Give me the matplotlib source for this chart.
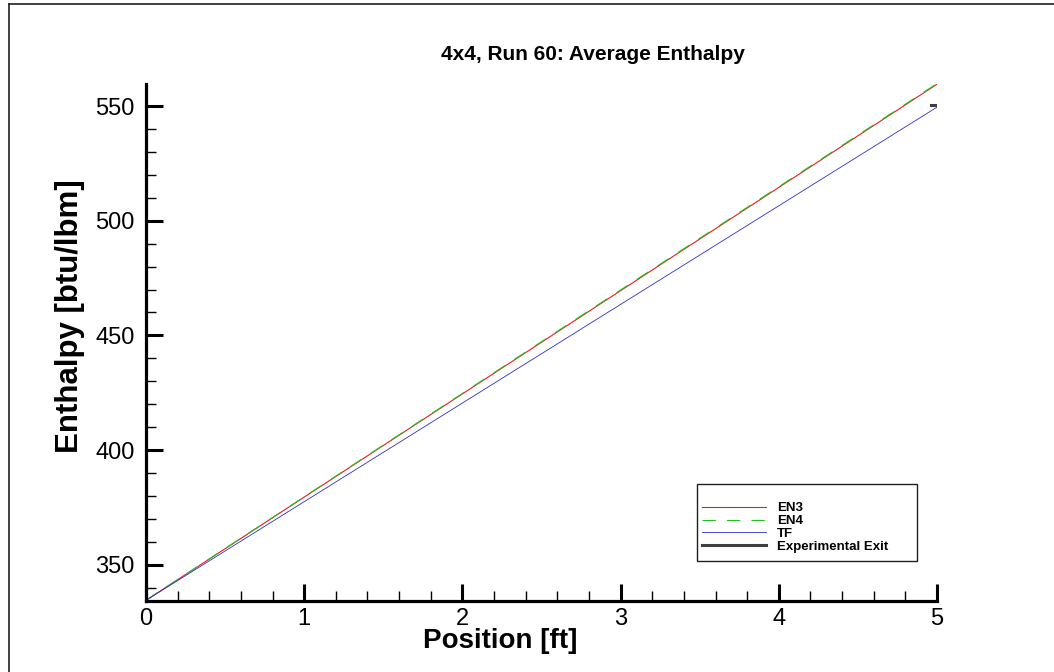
import matplotlib
matplotlib.use("Agg")
import matplotlib.pyplot as plt
from matplotlib.lines import Line2D
from matplotlib.patches import Rectangle
from matplotlib.ticker import MultipleLocator

# data
pos = [0, 1, 2, 3, 4, 5]
en3 = [334.5, 379.5, 424.5, 469.5, 514.5, 559.5]
en4 = [334.5, 379.6, 424.7, 469.8, 514.8, 559.8]
tf = [334.5, 377.5, 420.5, 463.5, 506.5, 549.5]
exp_x = [4.96, 5.0]
exp_y = [550.5, 550.5]

W, H = 1054, 672
fig = plt.figure(figsize=(W / 100, H / 100), dpi=100)
plt.rcParams['font.family'] = ['Liberation Sans', 'DejaVu Sans']

ax = fig.add_axes([146 / W, 1 - 601 / H, (937 - 146) / W, (601 - 84) / H])

ax.plot(pos, en3, color='#e02020', lw=0.8, label='EN3')
ax.plot(pos, en4, color='#20c020', lw=0.8, dashes=(12, 10), label='EN4')
ax.plot(pos, tf, color='#3030c0', lw=0.6, label='TF')
ax.plot(exp_x, exp_y, color='#404040', lw=2.2, label='Experimental Exit')

ax.set_xlim(0, 5)
ax.set_ylim(334.2, 559.6)
ax.xaxis.set_major_locator(MultipleLocator(1))
ax.xaxis.set_minor_locator(MultipleLocator(0.2))
ax.yaxis.set_major_locator(MultipleLocator(50))
ax.yaxis.set_minor_locator(MultipleLocator(10))

for s in ['top', 'right']:
    ax.spines[s].set_visible(False)
for s in ['left', 'bottom']:
    ax.spines[s].set_linewidth(2.3)
ax.tick_params(which='major', direction='in', length=12.5, width=2.2, labelsize=17)
ax.tick_params(which='minor', direction='in', length=7.5, width=1.0)
ax.tick_params(axis='x', pad=5)
ax.tick_params(axis='y', pad=8)

fig.text(593 / W, 1 - 55 / H, '4x4, Run 60: Average Enthalpy', ha='center', va='center',
         fontsize=15, fontweight='bold')
fig.text(500 / W, 1 - 641 / H, 'Position [ft]', ha='center', va='center',
         fontsize=20, fontweight='bold')
fig.text(70 / W, 1 - 316 / H, 'Enthalpy [btu/lbm]', ha='center', va='center', rotation=90,
         fontsize=22.5, fontweight='bold')

# legend box drawn by hand, entries placed inside it
ax.add_patch(Rectangle((697 / W, 1 - 561 / H), (917 - 697) / W, (561 - 484) / H,
                       transform=fig.transFigure, facecolor='white', edgecolor='#202020',
                       lw=1.0, zorder=4, clip_on=False))
leg = ax.legend(loc='upper left', bbox_to_anchor=(702 / W, 1 - 502 / H),
                bbox_transform=fig.transFigure, frameon=False,
                prop={'size': 9.5, 'weight': 'bold'},
                handlelength=4.85, handletextpad=0.83, labelspacing=0.05,
                borderpad=0, borderaxespad=0)
leg.set_zorder(5)

# page frame (left and top edges)
fig.add_artist(Line2D([9 / W, 9 / W], [0, 1 - 4 / H], transform=fig.transFigure, color='#202020', lw=1.2))
fig.add_artist(Line2D([9 / W, 1], [1 - 4 / H, 1 - 4 / H], transform=fig.transFigure, color='#202020', lw=1.2))

fig.savefig('out.png', dpi=100)
